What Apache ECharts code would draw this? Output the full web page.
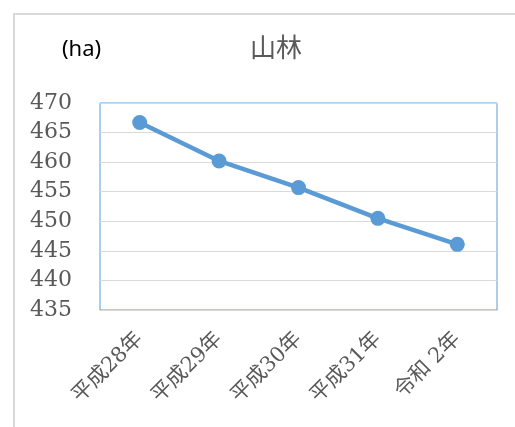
<!DOCTYPE html>
<html><head><meta charset="utf-8">
<script src="https://cdn.jsdelivr.net/npm/echarts@6/dist/echarts.min.js"></script>
<style>html,body{margin:0;padding:0;background:#fff}#c{width:515px;height:427px}</style>
</head><body><div id="c"></div>
<script>
const categories = ['平成28年', '平成29年', '平成30年', '平成31年', '令和 2年'];
const values = [466.7, 460.2, 455.7, 450.5, 446.1];
const yTicks = { min: 435, max: 470, interval: 5 };
const titleText = '山林';
const unitText = '(ha)';

const chart = echarts.init(document.getElementById('c'), null, { renderer: 'canvas' });
chart.setOption({
  animation: false,
  backgroundColor: '#fff',
  graphic: [
    { type: 'rect', shape: { x: 14, y: 14, width: 520, height: 430 }, style: { fill: 'none', stroke: '#d9d9d9', lineWidth: 2 }, z: -1 },
    { type: 'text', left: 62, top: 39, style: { text: unitText, font: '22px "Noto Sans", sans-serif', fill: '#000' } }
  ],
  title: {
    text: titleText, left: 271, top: 29, textAlign: 'center',
    textStyle: { fontFamily: '"Noto Sans CJK JP", sans-serif', fontWeight: 'normal', fontSize: 26, color: '#595959' }
  },
  grid: { left: 100, right: 18, top: 103, bottom: 117, show: true, borderColor: '#5b9bd5', borderWidth: 1, containLabel: false },
  xAxis: {
    type: 'category', data: categories, boundaryGap: true,
    axisLine: { show: true, lineStyle: { color: '#d9d9d9', width: 1 } },
    axisTick: { show: false },
    axisLabel: { rotate: 45, margin: 26, interval: 0, color: '#595959', fontSize: 21, fontFamily: '"DejaVu Serif", "Noto Sans CJK JP", serif' }
  },
  yAxis: {
    type: 'value', min: yTicks.min, max: yTicks.max, interval: yTicks.interval,
    axisLine: { show: false }, axisTick: { show: false },
    splitLine: { lineStyle: { color: '#d9d9d9', width: 1 } },
    axisLabel: { color: '#595959', fontSize: 22, margin: 28, align: 'right', fontFamily: '"DejaVu Serif", serif' }
  },
  series: [{
    type: 'line', data: values,
    lineStyle: { color: '#5b9bd5', width: 4.5 },
    itemStyle: { color: '#5b9bd5' },
    symbol: 'circle', symbolSize: 15
  }]
});
</script></body></html>
